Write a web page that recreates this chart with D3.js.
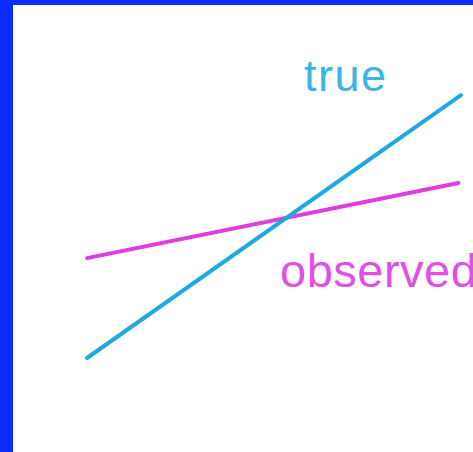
<!DOCTYPE html>
<html>
<head>
<meta charset="utf-8">
<script src="https://cdn.jsdelivr.net/npm/d3@7"></script>
<style>
html,body{margin:0;padding:0;background:#fff;overflow:hidden;}
</style>
</head>
<body>
<script>
const trueX = [0, 10];
const trueValues = [0, 7.03];
const observedX = [0, 9.93];
const observedValues = [2.67, 4.68];
const seriesNames = ["true", "observed"];

const W = 473, H = 452;
const svg = d3.select("body").append("svg").attr("width", W).attr("height", H);
svg.append("rect").attr("width", W).attr("height", H).attr("fill", "#0f2cff");
svg.append("rect").attr("x", 13).attr("y", 5).attr("width", W - 13).attr("height", H - 5).attr("fill", "#ffffff");

const x = d3.scaleLinear().domain([0, 10]).range([87, 461]);
const y = d3.scaleLinear().domain([0, 10]).range([358, -16]);

const line = d3.line().x(d => x(d[0])).y(d => y(d[1]));

svg.append("path")
  .datum(observedX.map((v, i) => [v, observedValues[i]]))
  .attr("d", line).attr("fill", "none")
  .attr("stroke", "#e03ce0").attr("stroke-width", 4).attr("stroke-linecap", "round");

svg.append("path")
  .datum(trueX.map((v, i) => [v, trueValues[i]]))
  .attr("d", line).attr("fill", "none")
  .attr("stroke", "#20a8e0").attr("stroke-width", 4).attr("stroke-linecap", "round");

svg.append("text").attr("x", 304).attr("y", 91)
  .attr("font-family", "Liberation Sans, Arial, sans-serif").attr("font-size", 45)
  .attr("letter-spacing", 1.5)
  .attr("fill", "#3cb4e4").text(seriesNames[0]);

svg.append("text").attr("x", 280).attr("y", 287)
  .attr("font-family", "Liberation Sans, Arial, sans-serif").attr("font-size", 47)
  .attr("letter-spacing", 0.5)
  .attr("fill", "#e050e6").text(seriesNames[1]);
</script>
</body>
</html>
